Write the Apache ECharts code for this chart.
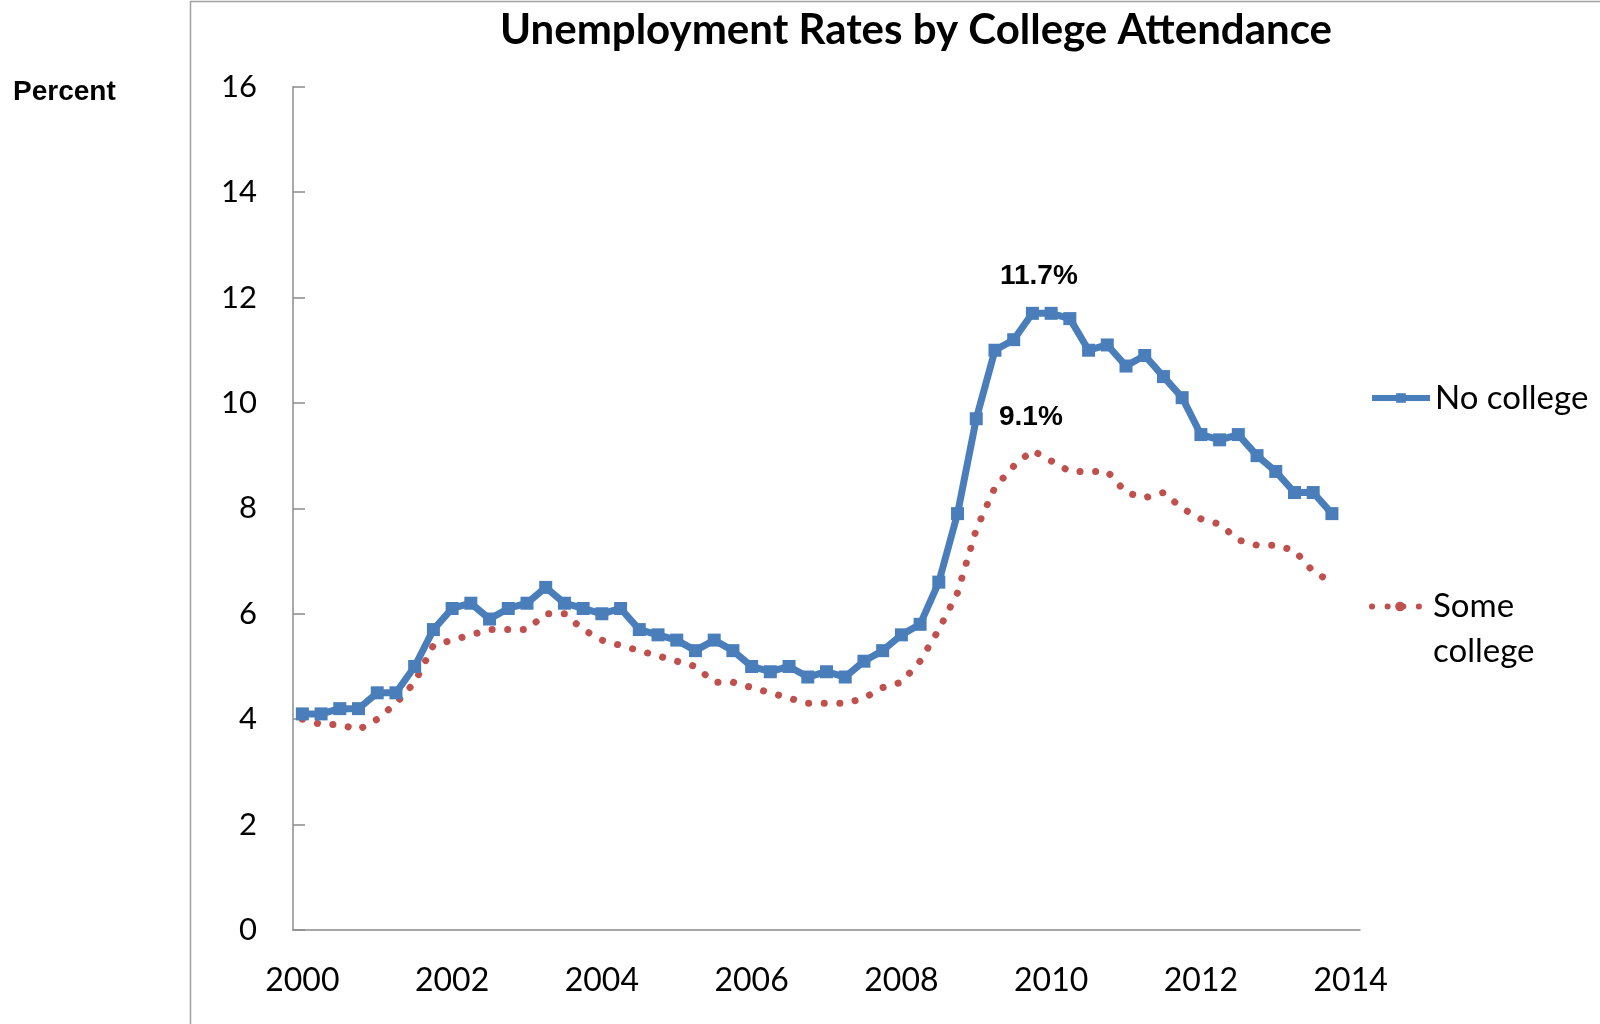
<!DOCTYPE html>
<html>
<head>
<meta charset="utf-8">
<title>Unemployment Rates by College Attendance</title>
<script src="https://cdn.jsdelivr.net/npm/echarts@6/dist/echarts.min.js"></script>
<style>
  html, body { margin: 0; padding: 0; background: #ffffff; }
  #chart { width: 1600px; height: 1024px; }
</style>
</head>
<body>
<div id="chart"></div>
<script>
// Quarterly categories, 2000 Q1 through 2014 Q1 (last slot left empty)
const quarters = [
  '2000Q1','2000Q2','2000Q3','2000Q4','2001Q1','2001Q2','2001Q3','2001Q4',
  '2002Q1','2002Q2','2002Q3','2002Q4','2003Q1','2003Q2','2003Q3','2003Q4',
  '2004Q1','2004Q2','2004Q3','2004Q4','2005Q1','2005Q2','2005Q3','2005Q4',
  '2006Q1','2006Q2','2006Q3','2006Q4','2007Q1','2007Q2','2007Q3','2007Q4',
  '2008Q1','2008Q2','2008Q3','2008Q4','2009Q1','2009Q2','2009Q3','2009Q4',
  '2010Q1','2010Q2','2010Q3','2010Q4','2011Q1','2011Q2','2011Q3','2011Q4',
  '2012Q1','2012Q2','2012Q3','2012Q4','2013Q1','2013Q2','2013Q3','2013Q4',
  '2014Q1'
];

// Unemployment rate, percent
const noCollege = [
  4.1, 4.1, 4.2, 4.2, 4.5, 4.5, 5.0, 5.7, 6.1, 6.2,
  5.9, 6.1, 6.2, 6.5, 6.2, 6.1, 6.0, 6.1, 5.7, 5.6,
  5.5, 5.3, 5.5, 5.3, 5.0, 4.9, 5.0, 4.8, 4.9, 4.8,
  5.1, 5.3, 5.6, 5.8, 6.6, 7.9, 9.7, 11.0, 11.2, 11.7,
  11.7, 11.6, 11.0, 11.1, 10.7, 10.9, 10.5, 10.1, 9.4, 9.3,
  9.4, 9.0, 8.7, 8.3, 8.3, 7.9
];
const someCollege = [
  4.0, 3.9, 3.9, 3.8, 4.0, 4.3, 4.7, 5.4, 5.5, 5.6,
  5.7, 5.7, 5.7, 6.0, 6.0, 5.7, 5.5, 5.4, 5.3, 5.2,
  5.1, 5.0, 4.7, 4.7, 4.6, 4.5, 4.4, 4.3, 4.3, 4.3,
  4.4, 4.6, 4.7, 5.1, 5.7, 6.4, 7.6, 8.4, 8.8, 9.1,
  8.9, 8.7, 8.7, 8.7, 8.3, 8.2, 8.3, 8.0, 7.8, 7.7,
  7.4, 7.3, 7.3, 7.2, 6.8, 6.6
];

const seriesNames = ['No college', 'Some college'];
const yTicks = { min: 0, max: 16, interval: 2 };

const BLUE = '#4A7EBB';
const RED = '#C0504D';
const AXIS_GRAY = '#8C8C8C';
const CAL = 'Lato, "Open Sans", sans-serif';
const ARIAL = '"Liberation Sans", Arial, sans-serif';
const BLUE_WIDTH = 7;
const RED_WIDTH = 7;
const RED_DOTS = [0.1, 15.5];

// Peak annotation anchored on the series maximum
function peakMark(values, offset) {
  const idx = values.indexOf(Math.max.apply(null, values));
  return {
    symbol: 'circle',
    symbolSize: 0,
    silent: true,
    label: {
      show: true,
      position: 'inside',
      offset: offset,
      formatter: p => p.value + '%',
      fontFamily: ARIAL,
      fontWeight: 'bold',
      fontSize: 28,
      color: '#000'
    },
    data: [{ coord: [quarters[idx], values[idx]], value: values[idx] }]
  };
}

const chart = echarts.init(document.getElementById('chart'), null, { renderer: 'canvas' });

chart.setOption({
  backgroundColor: '#ffffff',
  animation: false,
  title: [
    {
      text: 'Unemployment Rates by College Attendance',
      left: 916,
      top: 9,
      textAlign: 'center',
      padding: 0,
      textStyle: { fontFamily: CAL, fontWeight: 'bold', fontSize: 42, color: '#000' }
    },
    {
      text: 'Percent',
      left: 13,
      top: 78,
      padding: 0,
      textStyle: { fontFamily: ARIAL, fontWeight: 'bold', fontSize: 28, color: '#000' }
    }
  ],
  graphic: [
    {
      type: 'polyline',
      silent: true,
      shape: { points: [[190.5, 1024], [190.5, 1.5], [1600, 1.5]] },
      style: { stroke: '#A0A0A0', lineWidth: 1.5, fill: null }
    }
  ],
  legend: [
    {
      data: [seriesNames[0]],
      left: 1369,
      top: 378,
      padding: 0,
      itemWidth: 58,
      itemHeight: 12,
      lineStyle: { width: 6 },
      textStyle: { fontFamily: CAL, fontSize: 33, color: '#000', lineHeight: 40 }
    },
    {
      data: [seriesNames[1]],
      left: 1369,
      top: 539,
      padding: 0,
      itemWidth: 56,
      itemHeight: 12,
      lineStyle: { width: 6, type: RED_DOTS, cap: 'round' },
      // first line left blank so "Some" sits level with the dotted key
      formatter: name => '\n' + name.replace(' ', '\n'),
      textStyle: { fontFamily: CAL, fontSize: 33, color: '#000', lineHeight: 45 }
    }
  ],
  grid: { left: 293, right: 240, top: 86.7, bottom: 94, containLabel: false },
  xAxis: {
    type: 'category',
    data: quarters,
    boundaryGap: true,
    axisLine: { lineStyle: { color: AXIS_GRAY, width: 1.5 } },
    axisTick: {
      inside: true,
      length: 12,
      interval: 3,
      lineStyle: { color: AXIS_GRAY, width: 1.5 }
    },
    axisLabel: {
      interval: 7,
      margin: 35,
      formatter: v => v.slice(0, 4),
      fontFamily: CAL,
      fontSize: 32,
      color: '#000'
    },
    splitLine: { show: false }
  },
  yAxis: {
    type: 'value',
    min: yTicks.min,
    max: yTicks.max,
    interval: yTicks.interval,
    axisLine: { show: true, lineStyle: { color: AXIS_GRAY, width: 1.5 } },
    axisTick: { show: true, inside: true, length: 12, lineStyle: { color: AXIS_GRAY, width: 1.5 } },
    axisLabel: { margin: 36, fontFamily: CAL, fontSize: 31, color: '#000' },
    splitLine: { show: false }
  },
  series: [
    {
      name: seriesNames[0],
      type: 'line',
      data: noCollege,
      symbol: 'rect',
      symbolSize: 13,
      showAllSymbol: true,
      color: BLUE,
      itemStyle: { color: BLUE },
      lineStyle: { color: BLUE, width: BLUE_WIDTH, join: 'round' },
      markPoint: peakMark(noCollege, [6.5, -37]),
      z: 3
    },
    {
      name: seriesNames[1],
      type: 'line',
      data: someCollege,
      symbol: 'none',
      color: RED,
      itemStyle: { color: RED },
      lineStyle: { color: RED, width: RED_WIDTH, type: RED_DOTS, cap: 'round' },
      markPoint: peakMark(someCollege, [-1.5, -33]),
      z: 2
    }
  ]
});
</script>
</body>
</html>
